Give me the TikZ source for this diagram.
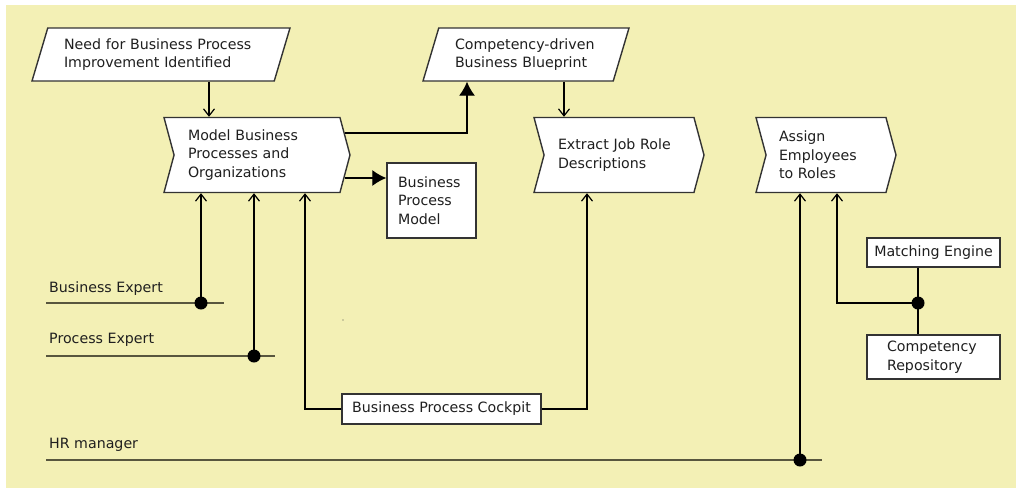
\documentclass[tikz,border=0pt]{standalone}
\usepackage{fontspec}
\setmainfont{DejaVu Sans}
\usetikzlibrary{positioning,arrows.meta,shapes.geometric,shapes.symbols}
\definecolor{paper}{RGB}{243,240,181}
\definecolor{lane}{RGB}{88,86,62}
\tikzset{
  event/.style={trapezium, trapezium left angle=66.5, trapezium right angle=113.5,
    trapezium stretches body, draw=black!80, line width=1.4pt, fill=white,
    text=black!88, align=left, inner sep=2pt},
  func/.style={signal, signal to=east, signal from=west, signal pointer angle=150,
    draw=black!80, line width=1.4pt, fill=white, text=black!88, align=left,
    minimum height=75, inner sep=2pt},
  sysbox/.style={rectangle, draw=black!80, line width=1.4pt, fill=white,
    text=black!88, inner sep=2pt},
  openarr/.style={line width=1.2pt, -{Straight Barb[length=7pt,width=11pt]}},
  fillarr/.style={line width=1.2pt, -{Latex[length=14pt,width=16pt]}},
  laneline/.style={draw=lane, line width=1.8pt},
  lanelabel/.style={anchor=base west, inner sep=0pt, text=black!88}
}

\begin{document}
\begin{tikzpicture}[x=1pt, y=-1pt, every node/.style={font=\fontsize{14.2}{18.5}\selectfont}]
\useasboundingbox (0,0) rectangle (1016,488);
\fill[paper] (6,5) rectangle (1016,488);

% events
\node[event, minimum width=258, minimum height=53, text width=194] (need) at (161,54.5) {Need for Business Process\\Improvement Identified};
\node[event, minimum width=206, minimum height=53, text width=142] (blueprint) at (526,54.5) {Competency-driven\\Business Blueprint};

% functions
\node[func, minimum width=186, text width=138] (model) at (257,155) {Model Business\\Processes and\\Organizations};
\node[func, minimum width=170, text width=122] (extract) at (619,155) {Extract Job Role\\Descriptions};
\node[func, minimum width=140, text width=94] (assign) at (826,155) {Assign\\Employees\\to Roles};

% systems and documents
\node[sysbox, minimum width=89, minimum height=75, text width=67, align=left] (bpm) at (431.5,200.5) {Business\\Process\\Model};
\node[sysbox, minimum width=133, minimum height=29] (match) at (933.5,252.5) {Matching Engine};
\node[sysbox, minimum width=133, minimum height=44, text width=93, align=left] (repo) at (933.5,357) {Competency\\Repository};
\node[sysbox, minimum width=199, minimum height=30] (cockpit) at (441.5,409) {Business Process Cockpit};

% roles
\node[lanelabel] (bexpert) at (49,292) {Business Expert};
\node[lanelabel] (pexpert) at (49,343) {Process Expert};
\node[lanelabel] (hrman) at (49,448) {HR manager};
\draw[laneline] (46,303) -- (224,303);
\draw[laneline] (46,356) -- (275,356);
\draw[laneline] (46,460) -- (822,460);
\coordinate (bedot) at (201,303);
\coordinate (pedot) at (254,356);
\coordinate (hrdot) at (800,460);
\coordinate (mjoin) at (918,303);

% flow
\draw[openarr] (need.south -| 209,0) -- (model.north -| 209,0);
\draw[fillarr] ([xshift=-6pt,yshift=22pt]model.east) -| (blueprint.south -| 467,0);
\draw[fillarr] ([xshift=-6pt,yshift=-23pt]model.east) -- (bpm.west |- 0,178);
\draw[openarr] (blueprint.south -| 564,0) -- (extract.north -| 564,0);

% support
\draw[openarr] (bedot) -- (model.south -| bedot);
\draw[openarr] (pedot) -- (model.south -| pedot);
\draw[openarr] (cockpit.west) -| (model.south -| 305,0);
\draw[openarr] (cockpit.east) -| (extract.south -| 587,0);
\draw[openarr] (hrdot) -- (assign.south -| hrdot);
\draw[line width=1.2pt] (match.south -| mjoin) -- (repo.north -| mjoin);
\draw[openarr] (mjoin) -| (assign.south -| 837,0);
\foreach \d in {bedot,pedot,hrdot,mjoin}
  \fill (\d) circle (6.5);
\fill[black!70] (343,320) circle (0.6);

\end{tikzpicture}
\end{document}
